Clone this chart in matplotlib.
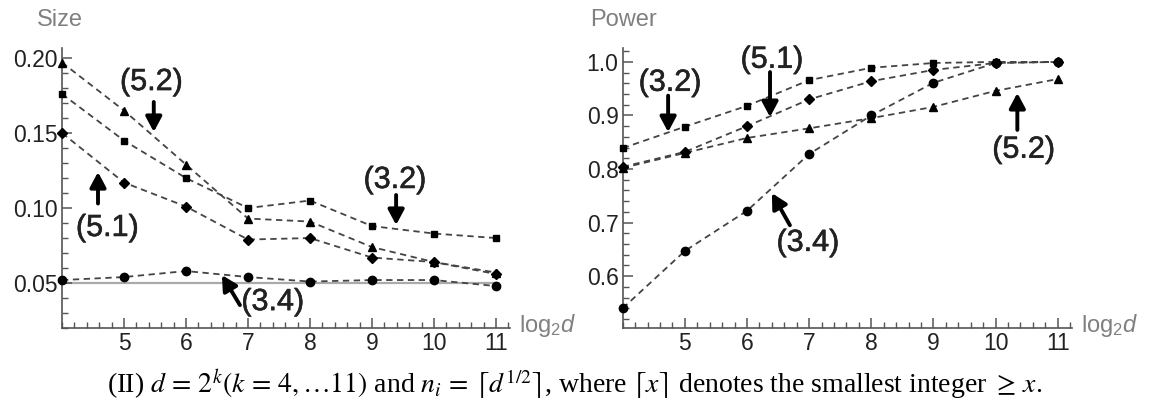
import numpy as np
import matplotlib
matplotlib.use("Agg")
import matplotlib.pyplot as plt
import matplotlib.patheffects as pe
from matplotlib.ticker import MultipleLocator, FormatStrFormatter

plt.rcParams['font.family'] = ['Liberation Sans', 'DejaVu Sans']
plt.rcParams['mathtext.fontset'] = 'custom'
plt.rcParams['mathtext.rm'] = 'Liberation Sans'
plt.rcParams['mathtext.it'] = 'Liberation Sans:italic'

# data
k = [4, 5, 6, 7, 8, 9, 10, 11]

size_32 = [0.176, 0.145, 0.120, 0.100, 0.105, 0.088, 0.083, 0.080]
size_34 = [0.052, 0.054, 0.058, 0.054, 0.051, 0.052, 0.052, 0.048]
size_51 = [0.150, 0.117, 0.101, 0.079, 0.080, 0.067, 0.064, 0.056]
size_52 = [0.197, 0.165, 0.129, 0.093, 0.091, 0.074, 0.064, 0.057]

power_32 = [0.839, 0.879, 0.918, 0.966, 0.989, 0.998, 1.000, 1.000]
power_34 = [0.540, 0.647, 0.722, 0.828, 0.900, 0.961, 0.998, 1.000]
power_51 = [0.804, 0.832, 0.880, 0.930, 0.964, 0.985, 0.998, 1.000]
power_52 = [0.802, 0.830, 0.858, 0.876, 0.895, 0.916, 0.946, 0.968]

nominal = 0.05

fig = plt.figure(figsize=(11.49, 4.05), dpi=100)
ax1 = fig.add_axes([0.054, 0.19, 0.39, 0.6915])
ax2 = fig.add_axes([0.542, 0.19, 0.391, 0.6915])

line_kw = dict(color='#444444', linestyle=(0, (3.5, 2.5)), linewidth=1.3)


def draw(ax, s32, s34, s51, s52):
    for vals, m, ms in [(s32, 's', 4.5), (s34, 'o', 6), (s51, 'D', 5.5), (s52, '^', 6)]:
        ax.plot(k, vals, **line_kw)
        ax.plot(k, vals, marker=m, color='black', markersize=ms, linestyle='none',
                clip_on=False, zorder=5)


def style(ax, ylim, ymaj, ymin, title, tx):
    for s in ['top', 'right']:
        ax.spines[s].set_visible(False)
    for s in ['left', 'bottom']:
        ax.spines[s].set_color('#555555')
        ax.spines[s].set_linewidth(1.2)
    ax.set_xlim(4, 11.23)
    ax.set_ylim(*ylim)
    ax.xaxis.set_major_locator(MultipleLocator(1))
    ax.xaxis.set_minor_locator(MultipleLocator(0.2))
    ax.yaxis.set_major_locator(MultipleLocator(ymaj))
    ax.yaxis.set_minor_locator(MultipleLocator(ymin))
    ax.tick_params(which='both', direction='in', colors='#555555', labelcolor='#222222',
                   labelsize=16.5)
    ax.tick_params(which='major', length=7, width=1.1, pad=3)
    ax.tick_params(which='minor', length=4, width=1)
    ax.set_xticks([5, 6, 7, 8, 9, 10, 11])
    ax.text(tx, 1.06, title, transform=ax.transAxes, fontsize=17, color='#808080',
            ha='left', va='bottom')
    ax.text(1.02, 0.01, r'$\mathrm{log_2}\mathit{d}$', transform=ax.transAxes, fontsize=17,
            color='#808080', ha='left', va='center')


arr = dict(arrowstyle='-|>,head_length=0.45,head_width=0.24', color='black', lw=2.8,
           mutation_scale=20, shrinkA=0, shrinkB=0)
tk = dict(fontsize=22, ha='center', va='center', color='#222222',
          path_effects=[pe.withStroke(linewidth=0.4, foreground='#222222')])


def label(ax, text, txy, tail, head):
    ax.text(txy[0], txy[1], text, **tk)
    ax.annotate('', xy=head, xytext=tail, arrowprops=arr)


# left: size
draw(ax1, size_32, size_34, size_51, size_52)
ax1.axhline(nominal, xmin=0, xmax=(11 - 4) / 7.23, color='#aaaaaa', linewidth=1.6, zorder=1)
style(ax1, (0.02, 0.2067), 0.05, 0.01, 'Size', -0.056)
ax1.yaxis.set_major_formatter(FormatStrFormatter('%.2f'))

label(ax1, '(5.2)', (5.44, 0.184), (5.48, 0.1707), (5.48, 0.1507))
label(ax1, '(5.1)', (4.73, 0.0867), (4.58, 0.103), (4.58, 0.124))
label(ax1, '(3.2)', (9.37, 0.1187), (9.39, 0.1087), (9.39, 0.0887))
label(ax1, '(3.4)', (7.40, 0.0373), (6.87, 0.0353), (6.58, 0.0553))

# right: power
draw(ax2, power_32, power_34, power_51, power_52)
style(ax2, (0.503, 1.026), 0.1, 0.02, 'Power', -0.073)
ax2.yaxis.set_major_formatter(FormatStrFormatter('%.1f'))

label(ax2, '(3.2)', (4.76, 0.961), (4.73, 0.937), (4.73, 0.869))
label(ax2, '(5.1)', (6.40, 1.004), (6.37, 0.981), (6.37, 0.897))
label(ax2, '(3.4)', (6.98, 0.662), (6.69, 0.695), (6.40, 0.755))
label(ax2, '(5.2)', (10.45, 0.836), (10.35, 0.873), (10.35, 0.942))

fig.text(0.5, 0.05,
         r'(II) $d\,=\,2^k(k\,=\,4,\ldots 11)$ and $n_i\,=\,\lceil d^{1/2}\rceil$, where $\lceil x\rceil$ '
         r'denotes the smallest integer $\geq\, x$.',
         ha='center', va='center', fontsize=20, family='Liberation Serif',
         math_fontfamily='stix', color='black')

fig.savefig('out.png', dpi=100)
